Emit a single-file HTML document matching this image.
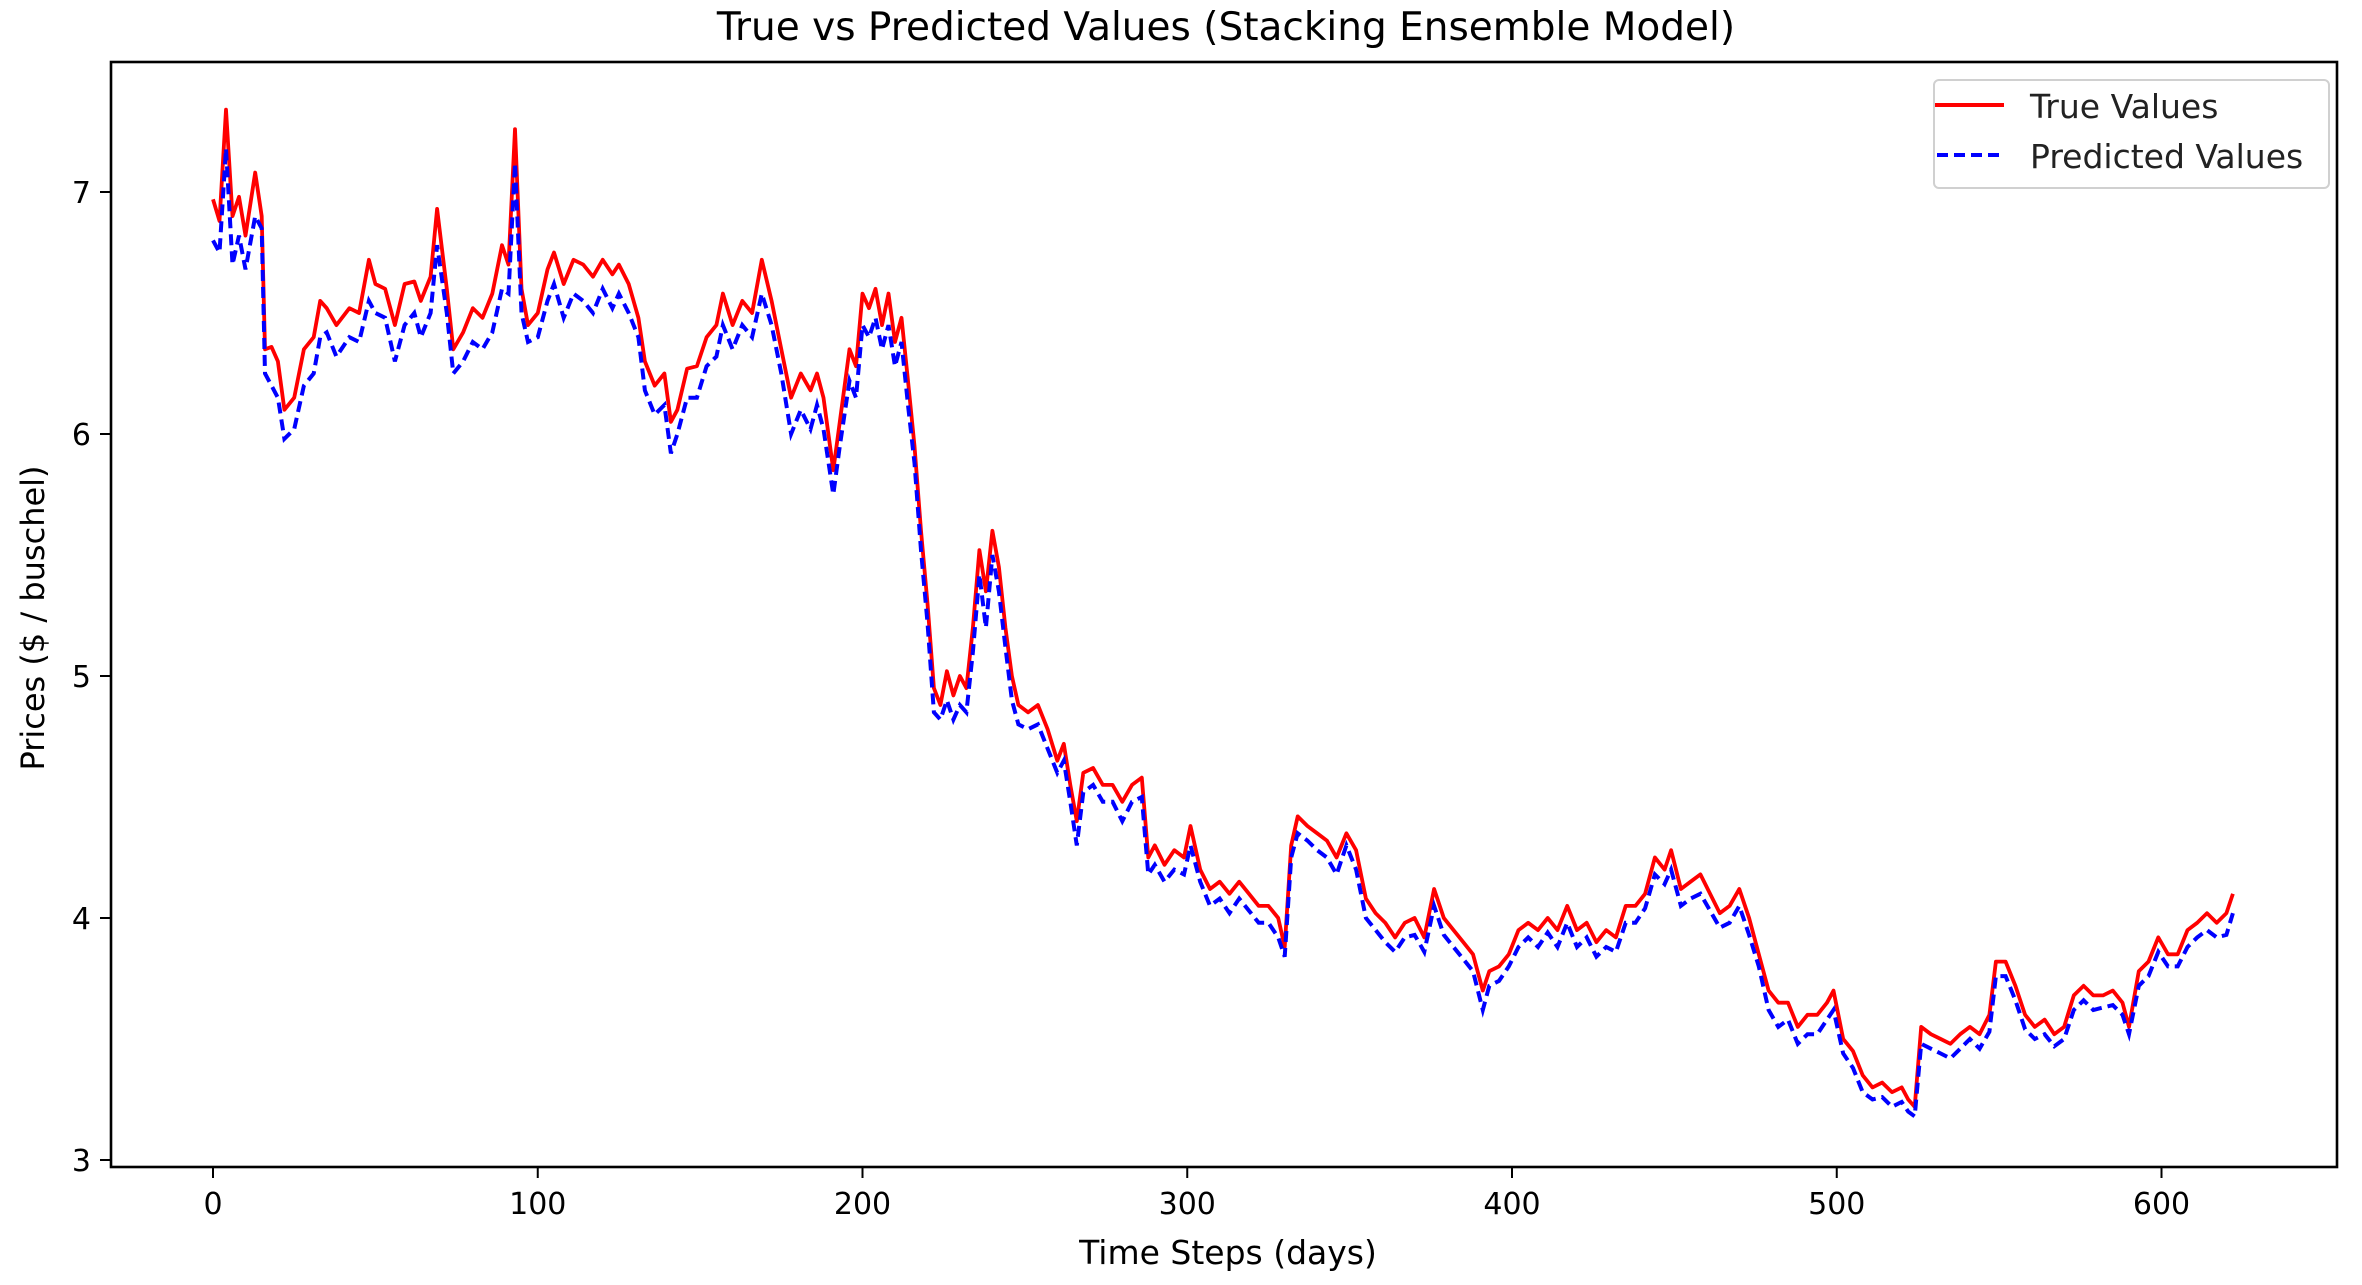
<!DOCTYPE html>
<html><head><meta charset="utf-8">
<style>
html,body{margin:0;padding:0;background:#fff;}
svg{display:block;font-family:"DejaVu Sans","Liberation Sans",sans-serif;}
</style></head>
<body>
<svg id="chart" width="2362" height="1285" viewBox="0 0 2362 1285" xmlns="http://www.w3.org/2000/svg">
<rect width="2362" height="1285" fill="#fff"/>
<text x="1226" y="40" text-anchor="middle" font-size="39" fill="#000">True vs Predicted Values (Stacking Ensemble Model)</text>
<g id="plot"></g>
<g id="axes"></g>
<text x="1228" y="1264" text-anchor="middle" font-size="33" fill="#000">Time Steps (days)</text>
<text transform="translate(44,618) rotate(-90)" text-anchor="middle" font-size="32" fill="#000">Prices ($ / buschel)</text>
<g>
<rect x="1934" y="80" width="395" height="108" rx="5" fill="#fff" stroke="#d0d0d0" stroke-width="2"/>
<g>
<line x1="1935" y1="105" x2="2004" y2="105" stroke="#ff0000" stroke-width="4"/>
<text x="2030" y="118" font-size="33" fill="#222">True Values</text>
</g>
<g>
<line x1="1937" y1="155" x2="2004" y2="155" stroke="#0000ff" stroke-width="4" stroke-dasharray="11,6"/>
<text x="2030" y="168" font-size="33" fill="#222">Predicted Values</text>
</g>
</g>
</svg>
<script>
const days=[0,2,4,6,8,10,13,15,16,18,20,22,25,28,31,33,35,38,42,45,48,50,53,56,59,62,64,67,69,72,74,77,80,83,86,89,91,93,95,97,100,103,105,108,111,114,117,120,123,125,128,131,133,136,139,141,143,146,149,152,155,157,160,163,166,169,172,175,178,181,184,186,188,191,193,196,198,200,202,204,206,208,210,212,214,216,218,220,222,224,226,228,230,232,234,236,238,240,242,244,246,248,251,254,257,260,262,264,266,268,271,274,277,280,283,286,288,290,293,296,299,301,304,307,310,313,316,319,322,325,328,330,332,334,337,340,343,346,349,352,355,358,361,364,367,370,373,376,379,382,385,388,391,393,396,399,402,405,408,411,414,417,420,423,426,429,432,435,438,441,444,447,449,452,455,458,461,464,467,470,473,476,479,482,485,488,491,494,497,499,502,505,508,511,514,517,520,522,524,526,529,532,535,538,541,544,547,549,552,555,558,561,564,567,570,573,576,579,582,585,588,590,593,596,599,602,605,608,611,614,617,620,622];
const trueValues=[6.97,6.88,7.34,6.9,6.98,6.82,7.08,6.9,6.35,6.36,6.3,6.1,6.15,6.35,6.4,6.55,6.52,6.45,6.52,6.5,6.72,6.62,6.6,6.45,6.62,6.63,6.55,6.65,6.93,6.6,6.35,6.42,6.52,6.48,6.58,6.78,6.7,7.26,6.6,6.45,6.5,6.68,6.75,6.62,6.72,6.7,6.65,6.72,6.66,6.7,6.62,6.48,6.3,6.2,6.25,6.05,6.1,6.27,6.28,6.4,6.45,6.58,6.45,6.55,6.5,6.72,6.55,6.35,6.15,6.25,6.18,6.25,6.15,5.85,6.05,6.35,6.28,6.58,6.52,6.6,6.45,6.58,6.38,6.48,6.22,5.95,5.6,5.3,4.95,4.88,5.02,4.92,5.0,4.95,5.2,5.52,5.35,5.6,5.45,5.2,5.0,4.88,4.85,4.88,4.78,4.65,4.72,4.55,4.4,4.6,4.62,4.55,4.55,4.48,4.55,4.58,4.25,4.3,4.22,4.28,4.25,4.38,4.2,4.12,4.15,4.1,4.15,4.1,4.05,4.05,4.0,3.88,4.3,4.42,4.38,4.35,4.32,4.25,4.35,4.28,4.08,4.02,3.98,3.92,3.98,4.0,3.92,4.12,4.0,3.95,3.9,3.85,3.7,3.78,3.8,3.85,3.95,3.98,3.95,4.0,3.95,4.05,3.95,3.98,3.9,3.95,3.92,4.05,4.05,4.1,4.25,4.2,4.28,4.12,4.15,4.18,4.1,4.02,4.05,4.12,4.0,3.85,3.7,3.65,3.65,3.55,3.6,3.6,3.65,3.7,3.5,3.45,3.35,3.3,3.32,3.28,3.3,3.25,3.22,3.55,3.52,3.5,3.48,3.52,3.55,3.52,3.6,3.82,3.82,3.72,3.6,3.55,3.58,3.52,3.55,3.68,3.72,3.68,3.68,3.7,3.65,3.55,3.78,3.82,3.92,3.85,3.85,3.95,3.98,4.02,3.98,4.02,4.1];
const predValues=[6.8,6.75,7.18,6.7,6.82,6.68,6.9,6.85,6.25,6.2,6.15,5.98,6.02,6.2,6.25,6.4,6.42,6.32,6.4,6.38,6.55,6.5,6.48,6.3,6.45,6.5,6.4,6.5,6.78,6.5,6.25,6.3,6.38,6.35,6.42,6.6,6.58,7.12,6.5,6.38,6.4,6.55,6.62,6.48,6.58,6.55,6.5,6.6,6.52,6.58,6.5,6.4,6.18,6.08,6.12,5.92,6.0,6.15,6.15,6.28,6.32,6.45,6.35,6.45,6.4,6.58,6.45,6.25,6.0,6.1,6.02,6.12,6.02,5.75,5.95,6.22,6.15,6.45,6.4,6.48,6.35,6.45,6.28,6.38,6.12,5.88,5.52,5.22,4.85,4.82,4.9,4.82,4.88,4.85,5.1,5.42,5.2,5.5,5.35,5.12,4.9,4.8,4.78,4.8,4.7,4.6,4.65,4.48,4.3,4.52,4.55,4.48,4.48,4.4,4.48,4.5,4.18,4.22,4.15,4.2,4.18,4.3,4.15,4.05,4.08,4.02,4.08,4.03,3.98,3.98,3.92,3.84,4.25,4.35,4.32,4.28,4.25,4.18,4.3,4.2,4.0,3.95,3.9,3.86,3.92,3.93,3.86,4.05,3.93,3.88,3.83,3.78,3.62,3.72,3.74,3.8,3.88,3.92,3.88,3.94,3.88,3.98,3.88,3.92,3.84,3.88,3.86,3.98,3.98,4.04,4.18,4.14,4.2,4.05,4.08,4.1,4.03,3.96,3.98,4.05,3.93,3.8,3.62,3.55,3.58,3.48,3.52,3.52,3.58,3.62,3.44,3.38,3.28,3.25,3.26,3.22,3.24,3.2,3.18,3.48,3.46,3.44,3.42,3.46,3.5,3.46,3.53,3.76,3.76,3.66,3.54,3.5,3.52,3.47,3.5,3.62,3.66,3.62,3.63,3.64,3.6,3.52,3.72,3.76,3.86,3.8,3.8,3.88,3.92,3.95,3.92,3.93,4.02];
const xTicks=[0,100,200,300,400,500,600];
const yTicks=[3,4,5,6,7];

const X0=213, XS=3.2475, Y7=192, YS=242;
const AX={l:111,r:2337,t:62,b:1167};
function xScale(d){return X0+d*XS;}
function yScale(v){return Y7+(7-v)*YS;}
const NS="http://www.w3.org/2000/svg";
const plot=document.getElementById('plot');
const axes=document.getElementById('axes');
function mk(tag,attrs,parent){const e=document.createElementNS(NS,tag);for(const k in attrs)e.setAttribute(k,attrs[k]);parent.appendChild(e);return e;}
function pts(vals){return days.map((d,i)=>xScale(d).toFixed(1)+","+yScale(vals[i]).toFixed(1)).join(" ");}

const tl=mk('polyline',{points:pts(trueValues),fill:'none',stroke:'#ff0000','stroke-width':3.8,'stroke-linejoin':'round'},plot);


const pl=mk('polyline',{points:pts(predValues),fill:'none',stroke:'#0000ff','stroke-width':4,'stroke-dasharray':'11,6'},plot);



const frame=mk('rect',{x:AX.l,y:AX.t,width:AX.r-AX.l,height:AX.b-AX.t,fill:'none',stroke:'#000','stroke-width':2.6},axes);



xTicks.forEach(t=>{
  const x=xScale(t);
  const tk=mk('line',{x1:x,y1:AX.b,x2:x,y2:AX.b+11,stroke:'#000','stroke-width':2},axes);
  
  
  const lb=mk('text',{x:x,y:AX.b+47,'text-anchor':'middle','font-size':30,fill:'#000'},axes);
  lb.textContent=t;
  
  
});
yTicks.forEach(t=>{
  const y=yScale(t);
  const tk=mk('line',{x1:AX.l-11,y1:y,x2:AX.l,y2:y,stroke:'#000','stroke-width':2},axes);
  
  
  const lb=mk('text',{x:AX.l-20,y:y+11,'text-anchor':'end','font-size':30,fill:'#000'},axes);
  lb.textContent=t;
  
  
});
</script>
</body></html>
